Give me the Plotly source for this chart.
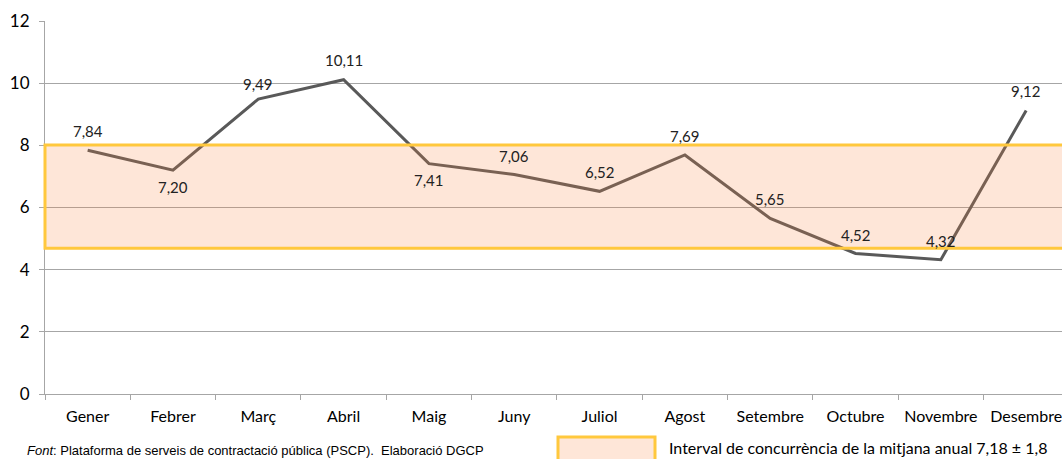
import plotly.graph_objects as go

# Mesos i valors
mesos = ["Gener", "Febrer", "Març", "Abril", "Maig", "Juny", "Juliol",
         "Agost", "Setembre", "Octubre", "Novembre", "Desembre"]
valors = [7.84, 7.20, 9.49, 10.11, 7.41, 7.06, 6.52, 7.69, 5.65, 4.52, 4.32, 9.12]
etiquetes = ["7,84", "7,20", "9,49", "10,11", "7,41", "7,06", "6,52",
             "7,69", "5,65", "4,52", "4,32", "9,12"]
# desplaçament vertical de cada etiqueta (px)
despl = [19, -17, 15, 20, -16, 19, 19, 19, 19, 19, 19, 20]

# Interval de concurrència
interval_baix = 4.69
interval_alt = 8.01

font_main = "Lato, Carlito, Calibri, sans-serif"

fig = go.Figure()

fig.add_trace(go.Scatter(
    x=mesos, y=valors,
    mode="lines",
    line=dict(color="#595959", width=3),
    showlegend=False,
    hoverinfo="skip",
))

for m, v, t, d in zip(mesos, valors, etiquetes, despl):
    fig.add_annotation(
        x=m, y=v, text=t, showarrow=False, yshift=d,
        font=dict(family=font_main, size=15, color="#222222"),
    )

# Banda de l'interval (per sobre de la línia, semitransparent)
fig.add_shape(
    type="rect", xref="paper", yref="y",
    x0=0, x1=1.01, y0=interval_baix, y1=interval_alt,
    fillcolor="rgba(250,130,60,0.2)",
    line=dict(color="#FFC83D", width=3),
    layer="above",
)

# Llegenda manual
fig.add_shape(
    type="rect", xref="paper", yref="paper",
    x0=(558 - 45) / 1017, x1=(655 - 45) / 1017, y0=-0.115, y1=-0.19,
    fillcolor="rgba(250,130,60,0.2)",
    line=dict(color="#FFC83D", width=3),
)
fig.add_annotation(
    xref="paper", yref="paper", x=(667 - 45) / 1017, y=-0.143,
    xanchor="left", yanchor="middle", showarrow=False,
    text="Interval de concurrència de la mitjana anual 7,18 ± 1,8",
    font=dict(family=font_main, size=16, color="#000000"),
)
fig.add_annotation(
    xref="paper", yref="paper", x=(25 - 45) / 1017, y=-0.151,
    xanchor="left", yanchor="middle", showarrow=False,
    text="<i>Font</i>: Plataforma de serveis de contractació pública (PSCP).  Elaboració DGCP",
    font=dict(family="Liberation Sans Narrow, Liberation Sans, Arial", size=13, color="#000000"),
)

fig.update_layout(
    width=1062, height=459,
    margin=dict(l=45, r=0, t=21, b=65, autoexpand=False),
    paper_bgcolor="white",
    plot_bgcolor="white",
    font=dict(family=font_main, size=16, color="#000000"),
    xaxis=dict(
        range=[-0.5, 11.42],
        automargin=False,
        tickangle=0,
        showgrid=False,
        showline=True, linecolor="#A6A6A6", linewidth=1,
        ticks="outside", ticklen=5, tickcolor="#A6A6A6",
        tickson="boundaries",
        ticklabelstandoff=8,
        tickfont=dict(size=16),
    ),
    yaxis=dict(
        range=[0, 12],
        automargin=False,
        tickvals=[0, 2, 4, 6, 8, 10, 12],
        showgrid=True, gridcolor="#A6A6A6", gridwidth=1,
        showline=True, linecolor="#A6A6A6", linewidth=1,
        ticks="outside", ticklen=5, tickcolor="#A6A6A6",
        ticklabelstandoff=6,
        zeroline=False,
        tickfont=dict(size=17),
    ),
)

fig.write_html("out.html", config={"displayModeBar": False},
               post_script="document.body.style.margin='0';")
